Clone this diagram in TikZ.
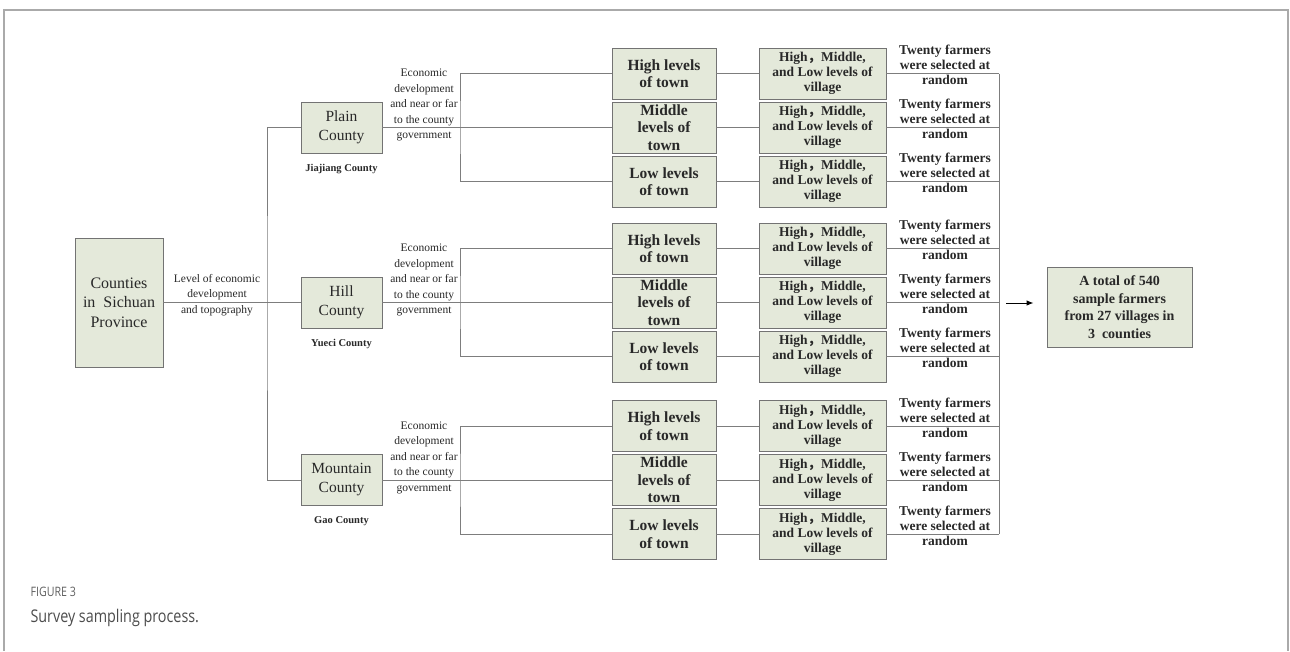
\documentclass[tikz,border=0pt]{standalone}
\usepackage{fontspec}
\setmainfont{Liberation Serif}
\newfontfamily\cjk{Noto Sans CJK SC}
\newfontfamily\capfont[FakeStretch=0.82]{Open Sans}
\usetikzlibrary{arrows.meta,positioning}
\definecolor{boxFill}{RGB}{228,233,218}
\definecolor{boxLine}{RGB}{115,115,115}
\definecolor{wireGrey}{RGB}{125,125,125}
\definecolor{inkGrey}{RGB}{40,40,40}
\definecolor{frameGrey}{RGB}{170,170,170}
\definecolor{capGrey}{RGB}{95,95,95}

\begin{document}
\begin{tikzpicture}[x=1pt,y=-1pt,text=inkGrey,
  box/.style={rectangle,draw=boxLine,fill=boxFill,line width=0.9pt,align=center,inner sep=0pt},
  county/.style={box,minimum width=81pt,minimum height=51pt,font=\fontsize{15.5}{19}\selectfont},
  town/.style={box,minimum width=104pt,minimum height=51pt,font=\fontsize{15.5}{17.5}\selectfont\bfseries},
  village/.style={box,minimum width=127pt,minimum height=51pt,font=\fontsize{13.5}{15}\selectfont\bfseries},
  note/.style={align=center,font=\fontsize{11.5}{15.5}\selectfont},
  pick/.style={align=center,font=\fontsize{13.5}{15}\selectfont\bfseries},
  wire/.style={draw=wireGrey,line width=1pt}]

  \useasboundingbox (0,0) rectangle (1290,651);
  \draw[frameGrey,line width=1.2pt] (4,651) -- (4,10) -- (1288,10) -- (1288,651);

  % province and the three counties
  \node[box,minimum width=88pt,minimum height=129pt,font=\fontsize{16}{19.5}\selectfont]
    (prov) at (119,302.5) {Counties\\in~~Sichuan\\Province};
  \node[note] (topo) at (217,295) {Level of economic\\development\\and topography};
  \coordinate (trunk) at (267,302.5);
  \coordinate (collect) at (999,303);

  \foreach \cty/\cy/\name/\real in {plain/127.5/Plain/Jiajiang,hill/302.5/Hill/Yueci,mount/480/Mountain/Gao}{
    \node[county] (\cty) at (341.5,\cy) {\name\\County};
    \node[font=\fontsize{10.5}{13}\selectfont\bfseries,below=7pt of \cty] (\cty-real) {\real\ County};
    \node[note] (\cty-why) at (424,\cy-22.5) {Economic\\development\\and near or far\\to the county\\government};
    \coordinate (\cty-fork) at (460,\cy);

    \foreach \lvl/\dy/\ttext in {hi/-54/High levels\\of town,mid/0/Middle\\levels of\\town,lo/54/Low levels\\of town}{
      \node[town] (\cty-\lvl) at (664,\cy+\dy) {\ttext};
      \node[village] (\cty-\lvl-v) at (822.5,\cy+\dy) {High{\cjk ，}Middle,\\and Low levels of\\village};
      \node[pick] (\cty-\lvl-p) at (945,\cy+\dy-8.5) {Twenty farmers\\were selected at\\random};
      \draw[wire] (\cty-\lvl) -- (\cty-\lvl-v);
      \draw[wire] (\cty-\lvl-v.east) -- (\cty-\lvl-v.east -| collect);
    }

    \draw[wire] (\cty) -- (\cty-mid);
    \draw[wire] (\cty-hi.west) -| (\cty-fork) |- (\cty-lo.west);
  }

  \draw[wire] (prov) -- (hill);
  \draw[wire] (plain.west) -| (trunk) |- (mount.west);
  \draw[wire] (plain-hi-v.east -| collect) -- (mount-lo-v.east -| collect);

  % result
  \node[box,minimum width=145pt,minimum height=80pt,font=\fontsize{14}{17.5}\selectfont\bfseries]
    (total) at (1119.5,307) {A total of 540\\sample farmers\\from 27 villages in\\3~~counties};
  \draw[-{Latex[length=7pt,width=5.5pt]},line width=1pt,black,shorten <=7pt,shorten >=13pt]
    (collect) -- (collect -| total.west);

  % caption
  \node[anchor=west,font=\capfont\fontsize{13}{15}\selectfont,text=capGrey] (figno) at (27,592) {FIGURE 3};
  \node[anchor=west,font=\capfont\fontsize{17.5}{22}\selectfont,text=capGrey!80!black] (caption) at (27,618) {Survey sampling process.};
\end{tikzpicture}
\end{document}
